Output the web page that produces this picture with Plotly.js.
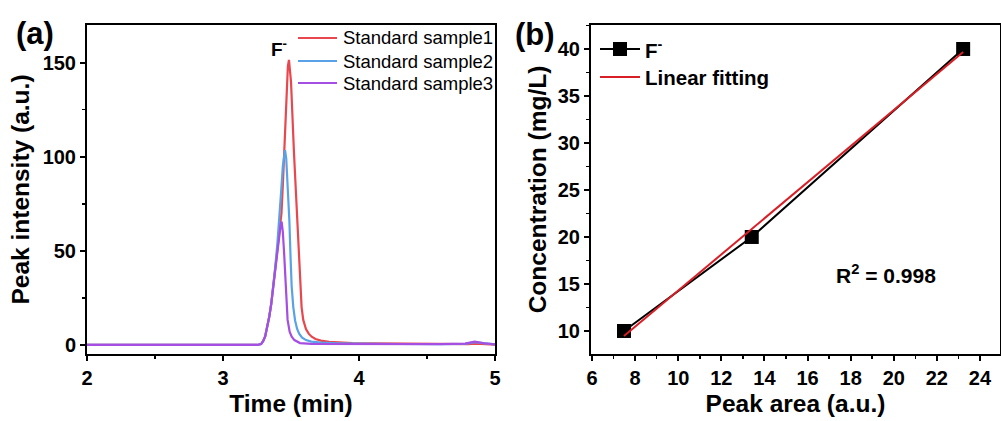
<!DOCTYPE html>
<html><head><meta charset="utf-8">
<script src="https://cdn.plot.ly/plotly-3.0.1.min.js"></script>
<style>html,body{margin:0;padding:0;background:#fff}#chart{width:1001px;height:421px}</style>
</head><body><div id="chart"></div>
<script>
// Panel (a): chromatograms (time in min, peak intensity a.u.)
const s1Time = [2.0, 3.0, 3.25, 3.28, 3.295, 3.31, 3.325, 3.34, 3.355, 3.37, 3.385, 3.40, 3.415, 3.43, 3.44, 3.45, 3.46, 3.467, 3.477, 3.485, 3.50, 3.522, 3.535, 3.548, 3.557, 3.566, 3.578, 3.59, 3.61, 3.63, 3.652, 3.68, 3.72, 3.78, 3.85, 3.95, 4.1, 4.3, 4.5, 4.7, 4.8, 4.86, 4.95, 5.0];
const s1Int  = [0, 0, 0, 0.5, 2, 4.5, 9, 15, 22, 31, 40, 50, 60, 70, 85, 102, 125, 138, 148, 151.5, 140, 102, 82, 66, 48, 31, 20, 13.3, 8.5, 6, 4.4, 3.2, 2.3, 1.6, 1.2, 1.0, 0.9, 0.8, 0.5, 0.3, 0.4, 0.7, 0.3, 0.2];
const s2Time = [2.0, 3.0, 3.25, 3.28, 3.295, 3.31, 3.325, 3.34, 3.355, 3.37, 3.385, 3.40, 3.414, 3.428, 3.44, 3.45, 3.456, 3.465, 3.475, 3.488, 3.497, 3.505, 3.517, 3.53, 3.545, 3.56, 3.58, 3.61, 3.65, 3.72, 3.85, 4.0, 4.3, 4.6, 4.78, 4.85, 4.92, 5.0];
const s2Int  = [0, 0, 0, 0.5, 2, 4.5, 9, 15, 22, 31, 42, 54, 66, 82, 95, 102, 103.5, 99, 85, 66, 46, 31, 20, 13, 8.5, 6, 4, 2.6, 1.8, 1.2, 0.9, 0.7, 0.5, 0.4, 0.6, 1.5, 0.8, 0.3];
const s3Time = [2.0, 3.0, 3.25, 3.28, 3.295, 3.31, 3.325, 3.34, 3.355, 3.37, 3.385, 3.40, 3.415, 3.425, 3.431, 3.44, 3.45, 3.457, 3.463, 3.469, 3.475, 3.49, 3.505, 3.525, 3.545, 3.566, 3.65, 4.0, 4.3, 4.6, 4.78, 4.85, 4.92, 5.0];
const s3Int  = [0, 0, 0, 0.5, 2, 4.5, 9, 15, 22, 31, 41, 51, 60, 64.5, 65.5, 60, 48, 38, 31, 21, 13.3, 7, 4.4, 2.6, 1.6, 1.0, 0.6, 0.5, 0.4, 0.4, 0.7, 1.8, 0.9, 0.3];
const seriesNames = ['Standard sample1', 'Standard sample2', 'Standard sample3'];

// Panel (b): calibration
const peakArea = [7.48, 13.41, 23.22];
const concentration = [10, 20, 40];
const calibNames = ['F<sup>-</sup>', 'Linear fitting'];

// least-squares fit from the data
function linFit(x, y) {
  const n = x.length;
  const mx = x.reduce((a, b) => a + b, 0) / n;
  const my = y.reduce((a, b) => a + b, 0) / n;
  let sxy = 0, sxx = 0;
  for (let i = 0; i < n; i++) { sxy += (x[i] - mx) * (y[i] - my); sxx += (x[i] - mx) ** 2; }
  const k = sxy / sxx;
  return { k: k, b: my - k * mx };
}
const fit = linFit(peakArea, concentration);
const fitX = [Math.min(...peakArea), Math.max(...peakArea)];
const fitY = fitX.map(v => fit.k * v + fit.b);

const FONT = 'Liberation Sans, Arial, sans-serif';
const colors = ['#e8474e', '#5aa2e8', '#a54ee2'];
const fitColor = '#d81f26';

// page-pixel helpers for legend/labels placement (margins l=87, t=25, plot 913x329)
const ML = 87, MT = 25, PW = 913, PH = 329;
const px = X => (X - ML) / PW;
const py = Y => 1 - (Y - MT) / PH;

const traces = [
  {x: s1Time, y: s1Int, name: seriesNames[0], type: 'scatter', mode: 'lines', line: {color: colors[0], width: 2.2}, xaxis: 'x', yaxis: 'y'},
  {x: s2Time, y: s2Int, name: seriesNames[1], type: 'scatter', mode: 'lines', line: {color: colors[1], width: 2.2}, xaxis: 'x', yaxis: 'y'},
  {x: s3Time, y: s3Int, name: seriesNames[2], type: 'scatter', mode: 'lines', line: {color: colors[2], width: 2.2}, xaxis: 'x', yaxis: 'y'},
  {x: peakArea, y: concentration, name: calibNames[0], type: 'scatter', mode: 'lines+markers', line: {color: '#000', width: 2}, marker: {symbol: 'square', size: 14, color: '#000'}, xaxis: 'x2', yaxis: 'y2'},
  {x: fitX, y: fitY, name: calibNames[1], type: 'scatter', mode: 'lines', line: {color: fitColor, width: 2}, xaxis: 'x2', yaxis: 'y2'}
];

const axBase = {
  showline: true, mirror: true, linecolor: '#000', linewidth: 2,
  ticks: 'outside', ticklen: 5, tickwidth: 2, tickcolor: '#000',
  showgrid: false, zeroline: false,
  tickfont: {family: FONT, size: 20, color: '#000', weight: 'bold'}
};
const minorBase = {ticklen: 3, tickwidth: 1.5, ticks: 'outside', tickcolor: '#000'};
const titleFont = {family: FONT, size: 24.5, color: '#000', weight: 'bold'};

const shapes = [];
const annotations = [];
// legend of panel (a)
const legARows = [38, 61, 83];
seriesNames.forEach((nm, i) => {
  shapes.push({type: 'line', xref: 'paper', yref: 'paper', x0: px(298), x1: px(337), y0: py(legARows[i]), y1: py(legARows[i]),
    line: {color: colors[i], width: 2.2}});
  annotations.push({text: nm, xref: 'paper', yref: 'paper', x: px(341), y: py(legARows[i]), xanchor: 'left', yanchor: 'middle',
    showarrow: false, font: {family: FONT, size: 18.5, color: '#000'}});
});
// legend of panel (b)
const legBRows = [49, 77];
shapes.push({type: 'line', xref: 'paper', yref: 'paper', x0: px(600), x1: px(640), y0: py(legBRows[0]), y1: py(legBRows[0]), line: {color: '#000', width: 2}});
shapes.push({type: 'rect', xref: 'paper', yref: 'paper', x0: px(613), x1: px(627), y0: py(legBRows[0] + 7), y1: py(legBRows[0] - 7), line: {width: 0}, fillcolor: '#000'});
shapes.push({type: 'line', xref: 'paper', yref: 'paper', x0: px(600), x1: px(640), y0: py(legBRows[1]), y1: py(legBRows[1]), line: {color: fitColor, width: 2}});
calibNames.forEach((nm, i) => {
  annotations.push({text: nm, xref: 'paper', yref: 'paper', x: px(643), y: py(legBRows[i]), xanchor: 'left', yanchor: 'middle',
    showarrow: false, font: {family: FONT, size: 20.5, color: '#000', weight: 'bold'}});
});
annotations.push(
  {text: '(a)', xref: 'paper', yref: 'paper', x: px(35), y: py(34), xanchor: 'center', yanchor: 'middle', showarrow: false,
   font: {family: FONT, size: 31, color: '#000', weight: 'bold'}},
  {text: '(b)', xref: 'paper', yref: 'paper', x: px(535), y: py(35), xanchor: 'center', yanchor: 'middle', showarrow: false,
   font: {family: FONT, size: 31, color: '#000', weight: 'bold'}},
  {text: 'F<sup>-</sup>', xref: 'paper', yref: 'paper', x: px(279), y: py(48), xanchor: 'center', yanchor: 'middle', showarrow: false,
   font: {family: FONT, size: 19, color: '#000', weight: 'bold'}},
  {text: 'R<sup>2</sup> = 0.998', xref: 'paper', yref: 'paper', x: px(886), y: py(274), xanchor: 'center', yanchor: 'middle', showarrow: false,
   font: {family: FONT, size: 21, color: '#000', weight: 'bold'}}
);

const layout = {
  width: 1001, height: 421,
  margin: {l: ML, r: 1, t: MT, b: 421 - MT - PH},
  paper_bgcolor: '#fff', plot_bgcolor: '#fff',
  showlegend: false,
  xaxis: Object.assign({}, axBase, {domain: [0, px(495)], range: [2, 5], dtick: 1, tick0: 2,
    minor: Object.assign({dtick: 0.5}, minorBase),
    title: {text: 'Time (min)', font: titleFont, standoff: 7}, anchor: 'y'}),
  yaxis: Object.assign({}, axBase, {domain: [0, 1], range: [-4.8, 170], dtick: 50, tick0: 0,
    minor: Object.assign({dtick: 25}, minorBase),
    title: {text: 'Peak intensity (a.u.)', font: titleFont, standoff: 6}, anchor: 'x'}),
  xaxis2: Object.assign({}, axBase, {domain: [px(591), 1], range: [5.95, 24.93], dtick: 2, tick0: 6,
    minor: Object.assign({dtick: 1}, minorBase),
    title: {text: 'Peak area (a.u.)', font: titleFont, standoff: 7}, anchor: 'y2'}),
  yaxis2: Object.assign({}, axBase, {domain: [0, 1], range: [7.55, 42.55], dtick: 5, tick0: 10,
    minor: Object.assign({dtick: 2.5}, minorBase),
    title: {text: 'Concentration (mg/L)', font: titleFont, standoff: 4}, anchor: 'x2'}),
  shapes: shapes,
  annotations: annotations
};

Plotly.newPlot('chart', traces, layout, {displayModeBar: false, staticPlot: true});
</script>
</body></html>
